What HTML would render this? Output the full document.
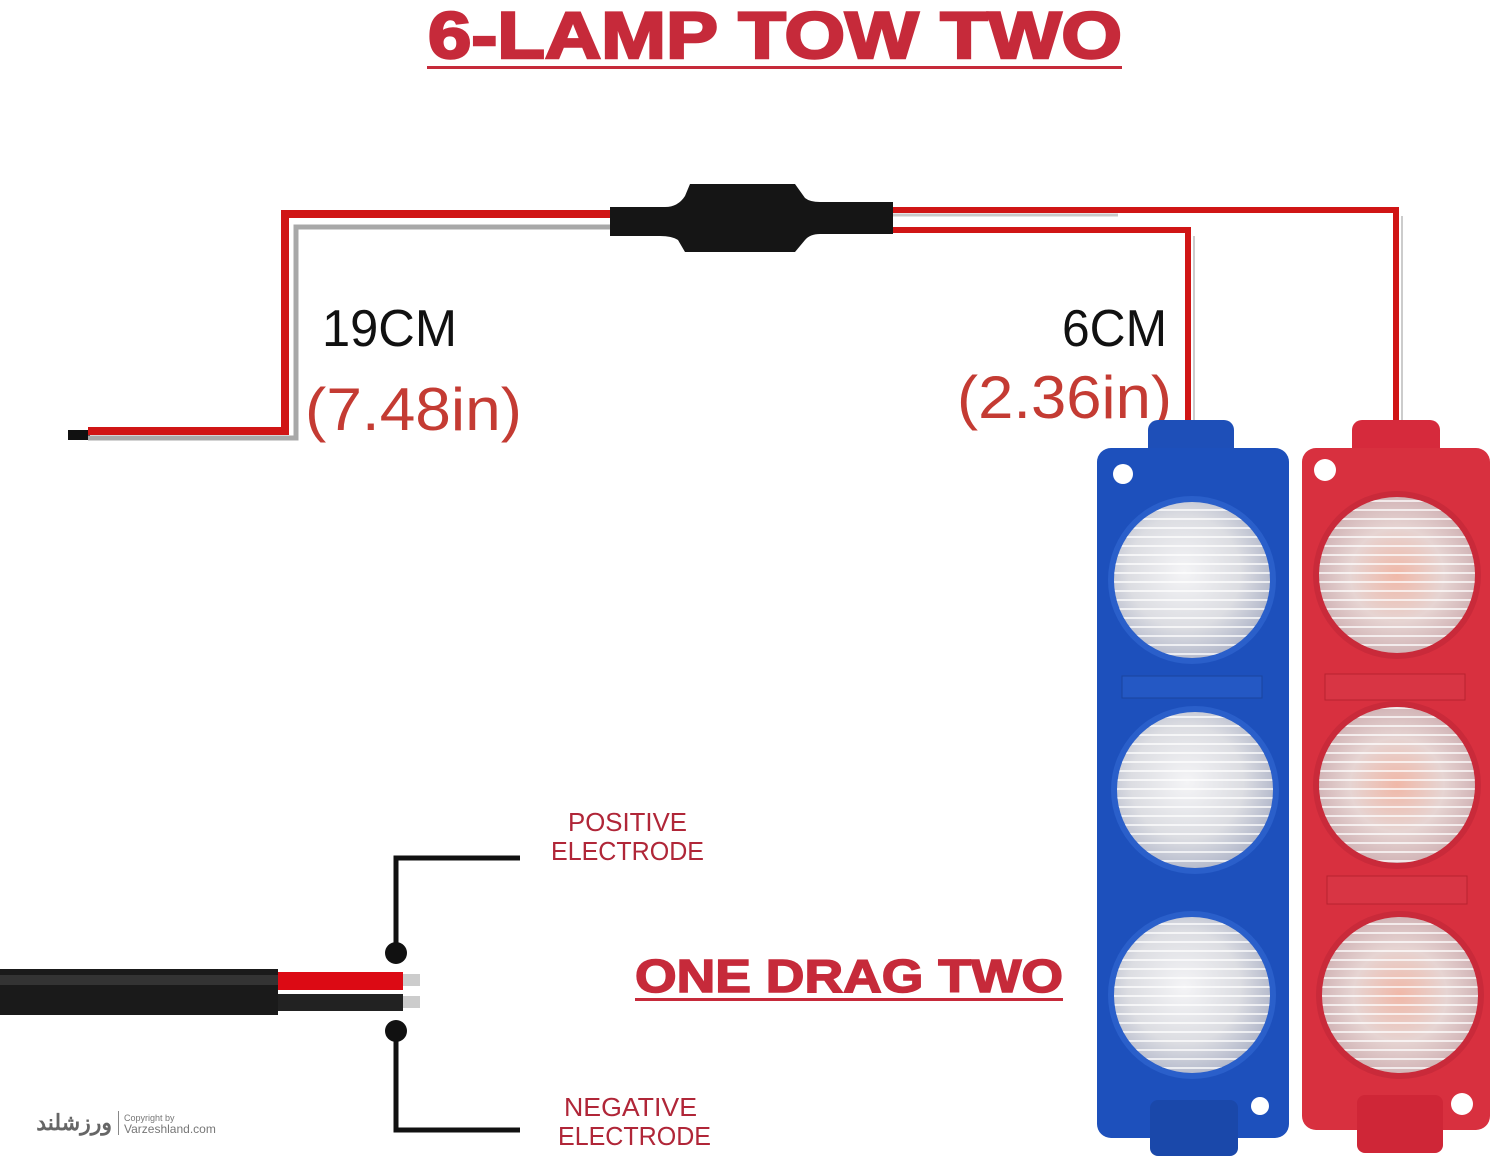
<!DOCTYPE html>
<html><head><meta charset="utf-8"><style>
html,body{margin:0;padding:0;background:#fff;}
svg{display:block;}
text{font-family:"Liberation Sans",sans-serif;}
</style></head><body>
<svg width="1500" height="1160" viewBox="0 0 1500 1160" xmlns="http://www.w3.org/2000/svg">
<defs>
<radialGradient id="lensB" cx="0.45" cy="0.45" r="0.6">
<stop offset="0" stop-color="#f4f4f6"/><stop offset="0.6" stop-color="#dcdde2"/><stop offset="1" stop-color="#aeb4c8"/>
</radialGradient>
<radialGradient id="lensR" cx="0.5" cy="0.5" r="0.6">
<stop offset="0" stop-color="#f0b8a8"/><stop offset="0.5" stop-color="#e6d4d2"/><stop offset="1" stop-color="#c9a7ab"/>
</radialGradient>
<pattern id="ribs" width="10" height="9" patternUnits="userSpaceOnUse">
<rect width="10" height="9" fill="none"/><rect y="5" width="10" height="2" fill="#ffffff" opacity="0.7"/>
</pattern>
</defs>

<!-- Title -->
<text x="428" y="58" font-size="66" font-weight="900" fill="#c62a3a" stroke="#c62a3a" stroke-width="2.5" textLength="694" lengthAdjust="spacingAndGlyphs">6-LAMP TOW TWO</text>
<rect x="427" y="66" width="695" height="3" fill="#c62a3a"/>

<!-- Left wire -->
<rect x="68" y="430" width="22" height="10" fill="#111"/>
<polyline points="88,431 285,431 285,214 612,214" fill="none" stroke="#d01515" stroke-width="8"/>
<polyline points="88,438 296,438 296,227 612,227" fill="none" stroke="#a8a8a8" stroke-width="5"/>

<!-- Right wires -->
<polyline points="890,210 1396,210 1396,420" fill="none" stroke="#d01515" stroke-width="6"/>
<polyline points="890,215 1118,215" fill="none" stroke="#c8c8c8" stroke-width="3"/>
<polyline points="890,230 1188,230 1188,422" fill="none" stroke="#d01515" stroke-width="6"/>
<line x1="1194" y1="236" x2="1194" y2="420" stroke="#ccc" stroke-width="2"/>
<line x1="1402" y1="216" x2="1402" y2="420" stroke="#ccc" stroke-width="2"/>

<!-- Connector -->
<path d="M610,207 L665,207 Q678,207 685,196 L690,184 L795,184 L805,198 Q810,202 820,202 L893,202 L893,234 L820,234 Q810,234 805,240 L795,252 L685,252 L678,240 Q672,236 660,236 L610,236 Z" fill="#151515"/>

<!-- Dimension labels -->
<text x="322" y="346" font-size="52" fill="#111" textLength="135" lengthAdjust="spacingAndGlyphs">19CM</text>
<text x="305" y="430" font-size="60" fill="#c43b33" textLength="217" lengthAdjust="spacingAndGlyphs">(7.48in)</text>
<text x="1062" y="346" font-size="52" fill="#111" textLength="105" lengthAdjust="spacingAndGlyphs">6CM</text>
<text x="957" y="418" font-size="60" fill="#c43b33" textLength="215" lengthAdjust="spacingAndGlyphs">(2.36in)</text>

<!-- Blue module -->
<rect x="1148" y="420" width="86" height="72" rx="10" fill="#1e4fb8"/>
<rect x="1097" y="448" width="192" height="690" rx="14" fill="#1d50bc"/>
<rect x="1150" y="1100" width="88" height="56" rx="8" fill="#1a48aa"/>
<circle cx="1123" cy="474" r="10" fill="#fff"/>
<circle cx="1260" cy="1106" r="9" fill="#fff"/>
<rect x="1122" y="676" width="140" height="22" fill="#2458c4" stroke="#1a449e" stroke-width="1"/>
<g>
<circle cx="1192" cy="580" r="84" fill="#2a5fca"/>
<circle cx="1192" cy="580" r="78" fill="url(#lensB)"/>
<circle cx="1192" cy="580" r="78" fill="url(#ribs)"/>
<circle cx="1195" cy="790" r="84" fill="#2a5fca"/>
<circle cx="1195" cy="790" r="78" fill="url(#lensB)"/>
<circle cx="1195" cy="790" r="78" fill="url(#ribs)"/>
<circle cx="1192" cy="995" r="84" fill="#2a5fca"/>
<circle cx="1192" cy="995" r="78" fill="url(#lensB)"/>
<circle cx="1192" cy="995" r="78" fill="url(#ribs)"/>
</g>

<!-- Red module -->
<rect x="1352" y="420" width="88" height="72" rx="10" fill="#d62a3c"/>
<rect x="1302" y="448" width="188" height="682" rx="14" fill="#d8303f"/>
<rect x="1357" y="1095" width="86" height="58" rx="8" fill="#cf2637"/>
<circle cx="1325" cy="470" r="11" fill="#fff"/>
<circle cx="1462" cy="1104" r="11" fill="#fff"/>
<rect x="1325" y="674" width="140" height="26" fill="#d83544" stroke="#b8222f" stroke-width="1"/>
<rect x="1327" y="876" width="140" height="28" fill="#d83544" stroke="#b8222f" stroke-width="1"/>
<g>
<circle cx="1397" cy="575" r="84" fill="#c92a3a"/>
<circle cx="1397" cy="575" r="78" fill="url(#lensR)"/>
<circle cx="1397" cy="575" r="78" fill="url(#ribs)"/>
<circle cx="1397" cy="785" r="84" fill="#c92a3a"/>
<circle cx="1397" cy="785" r="78" fill="url(#lensR)"/>
<circle cx="1397" cy="785" r="78" fill="url(#ribs)"/>
<circle cx="1400" cy="995" r="84" fill="#c92a3a"/>
<circle cx="1400" cy="995" r="78" fill="url(#lensR)"/>
<circle cx="1400" cy="995" r="78" fill="url(#ribs)"/>
</g>

<!-- Bottom cable -->
<rect x="0" y="969" width="278" height="46" fill="#1a1a1a"/>
<rect x="0" y="975" width="278" height="10" fill="#333"/>
<rect x="278" y="972" width="125" height="18" fill="#dc0a14"/>
<rect x="278" y="994" width="125" height="17" fill="#222"/>
<rect x="403" y="974" width="17" height="12" fill="#ccc"/>
<rect x="403" y="996" width="17" height="12" fill="#ccc"/>
<polyline points="396,953 396,858 520,858" fill="none" stroke="#111" stroke-width="5"/>
<polyline points="396,1031 396,1130 520,1130" fill="none" stroke="#111" stroke-width="5"/>
<circle cx="396" cy="953" r="11" fill="#111"/>
<circle cx="396" cy="1031" r="11" fill="#111"/>

<text x="568" y="831" font-size="26" fill="#b02638" textLength="119" lengthAdjust="spacingAndGlyphs">POSITIVE</text>
<text x="551" y="860" font-size="26" fill="#b02638" textLength="153" lengthAdjust="spacingAndGlyphs">ELECTRODE</text>
<text x="564" y="1116" font-size="26" fill="#b02638" textLength="133" lengthAdjust="spacingAndGlyphs">NEGATIVE</text>
<text x="558" y="1145" font-size="26" fill="#b02638" textLength="153" lengthAdjust="spacingAndGlyphs">ELECTRODE</text>

<text x="635" y="992" font-size="46" font-weight="900" fill="#c62a3a" stroke="#c62a3a" stroke-width="1.5" textLength="428" lengthAdjust="spacingAndGlyphs">ONE DRAG TWO</text>
<rect x="635" y="998" width="428" height="3" fill="#c62a3a"/>

<!-- Watermark -->
<text x="112" y="1130" font-size="22" font-weight="bold" fill="#666" text-anchor="end" font-family="'Liberation Sans','DejaVu Sans',sans-serif">ورزشلند</text>
<rect x="118" y="1111" width="1" height="24" fill="#888"/>
<text x="124" y="1121" font-size="9" fill="#777">Copyright by</text>
<text x="124" y="1133" font-size="12" fill="#777">Varzeshland.com</text>
</svg>
</body></html>
